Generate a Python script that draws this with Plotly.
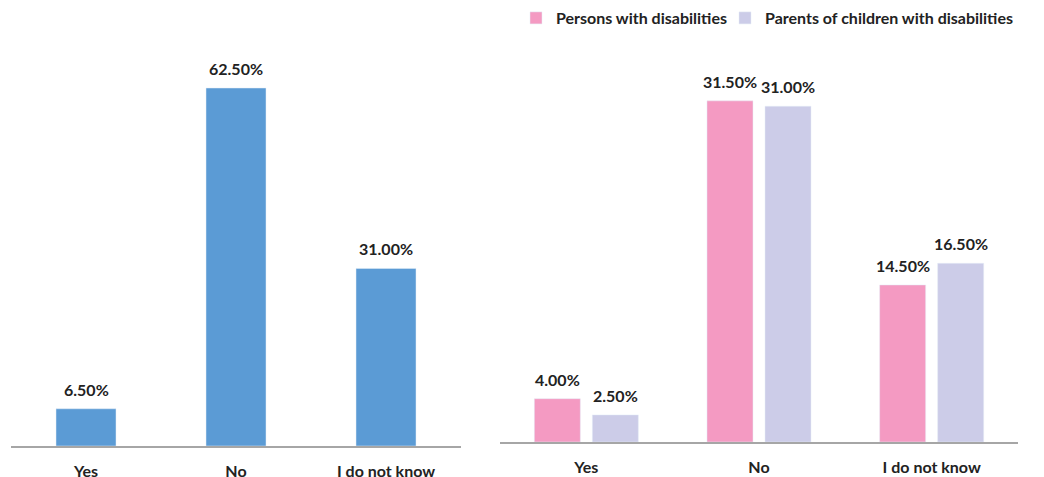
import plotly.graph_objects as go

categories = ["Yes", "No", "I do not know"]
overall = [6.5, 62.5, 31.0]
persons = [4.0, 31.5, 14.5]
parents = [2.5, 31.0, 16.5]
series_names = ["Persons with disabilities", "Parents of children with disabilities"]

BLUE = "#5B9BD5"
PINK = "#F49AC2"
LAV = "#CCCCE8"
FONT = "Lato"
TXT = "#222222"
FS = 16

fig = go.Figure()
fig.add_trace(go.Bar(x=categories, y=overall, marker_color=BLUE, width=0.4,
                     showlegend=False, xaxis="x", yaxis="y", hoverinfo="skip"))
fig.add_trace(go.Bar(x=categories, y=persons, name=series_names[0], marker_color=PINK,
                     xaxis="x2", yaxis="y2", offsetgroup="a", legend="legend"))
fig.add_trace(go.Bar(x=categories, y=parents, name=series_names[1], marker_color=LAV,
                     xaxis="x2", yaxis="y2", offsetgroup="b", legend="legend2"))

lab_font = dict(size=FS, color=TXT, family=FONT)
ann = []
for c, v in zip(categories, overall):
    ann.append(dict(x=c, y=v, xref="x", yref="y", text=f"<b>{v:.2f}%</b>", showarrow=False,
                    yanchor="bottom", yshift=8, font=lab_font))
shift = 29
for c, v in zip(categories, persons):
    ann.append(dict(x=c, y=v, xref="x2", yref="y2", text=f"<b>{v:.2f}%</b>", showarrow=False,
                    yanchor="bottom", yshift=8, xshift=-shift, font=lab_font))
for c, v in zip(categories, parents):
    ann.append(dict(x=c, y=v, xref="x2", yref="y2", text=f"<b>{v:.2f}%</b>", showarrow=False,
                    yanchor="bottom", yshift=8, xshift=shift, font=lab_font))

axis_common = dict(showgrid=False, zeroline=False, showline=True, linecolor="#A6A6A6", linewidth=2,
                   ticks="", tickfont=dict(size=FS, color=TXT, family=FONT, weight="bold"),
                   ticklabelstandoff=10, automargin=False)

W, H = 1044, 477
leg_common = dict(orientation="h", y=1 + 7/H, xanchor="left", yanchor="top",
                  font=dict(size=FS, color=TXT, family=FONT, weight="bold"),
                  itemwidth=30, bgcolor="rgba(0,0,0,0)")
fig.update_layout(
    width=W, height=H,
    margin=dict(l=0, r=0, t=0, b=0, autoexpand=False),
    paper_bgcolor="white", plot_bgcolor="white",
    barmode="group", bargap=0.328, bargroupgap=0.207,
    xaxis=dict(domain=[3/W, 453/W], anchor="y", **axis_common),
    yaxis=dict(domain=[39/H, 445/H], range=[0, 406/5.728], visible=False, anchor="x"),
    xaxis2=dict(domain=[492/W, 1010/W], anchor="y2", **axis_common),
    yaxis2=dict(domain=[43/H, 445/H], range=[0, 402/10.83], visible=False, anchor="x2"),
    annotations=ann,
    legend=dict(x=508/W, **leg_common),
    legend2=dict(x=717/W, **leg_common),
    font=dict(family=FONT),
)

fig.write_html("out.html")
